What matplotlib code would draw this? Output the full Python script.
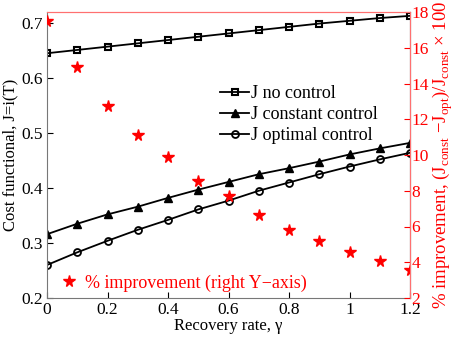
import matplotlib
matplotlib.use("Agg")
import matplotlib.pyplot as plt

plt.rcParams["font.family"] = ["Liberation Serif", "DejaVu Serif"]
plt.rcParams["mathtext.fontset"] = "custom"
plt.rcParams["mathtext.rm"] = "Liberation Serif"

# Данные
gamma = [0.0, 0.1, 0.2, 0.3, 0.4, 0.5, 0.6, 0.7, 0.8, 0.9, 1.0, 1.1, 1.2]
j_no = [0.645, 0.651, 0.657, 0.663, 0.669, 0.675, 0.681, 0.687, 0.693, 0.699, 0.704, 0.709, 0.713]
j_const = [0.316, 0.335, 0.352, 0.366, 0.382, 0.397, 0.411, 0.425, 0.436, 0.448, 0.461, 0.472, 0.482]
j_opt = [0.260, 0.283, 0.304, 0.324, 0.342, 0.361, 0.377, 0.395, 0.410, 0.425, 0.439, 0.452, 0.464]
improvement = [17.5, 14.9, 12.74, 11.12, 9.9, 8.56, 7.71, 6.64, 5.80, 5.19, 4.59, 4.07, 3.57]

fig = plt.figure(figsize=(4.63, 3.41), dpi=100)
ax = fig.add_axes([47 / 463, 43 / 341, 363 / 463, 286 / 341])

ax.plot(gamma, j_no, "k-s", lw=1.3, ms=4.5, mfc="none", mew=1.5, label="J no control")
ax.plot(gamma, j_const, "k-^", lw=1.3, ms=6, mfc="k", label="J constant control")
ax.plot(gamma, j_opt, "k-o", lw=1.3, ms=5, mfc="none", mew=1.3, label="J optimal control")

ax.set_xlim(0, 1.2)
ax.set_ylim(0.2, 0.72)
ax.set_xticks([0, 0.2, 0.4, 0.6, 0.8, 1, 1.2])
ax.set_xticklabels(["0", "0.2", "0.4", "0.6", "0.8", "1", "1.2"])
ax.set_yticks([0.2, 0.3, 0.4, 0.5, 0.6, 0.7])
ax.tick_params(direction="in", labelsize=12.5, length=4, pad=3)
ax.set_xlabel("Recovery rate, γ", fontsize=12, labelpad=0)
ax.set_ylabel("Cost functional, J=i(T)", fontsize=12, labelpad=2)
for s in ["left", "bottom"]:
    ax.spines[s].set_color("#777777")
ax.spines["top"].set_color("#ff7070")

ax.legend(loc="upper left", bbox_to_anchor=(0.432, 0.80), frameon=False,
          fontsize=13, handlelength=1.6, handletextpad=0.1, labelspacing=0.22)

# Правая ось: процент улучшения
ax2 = ax.twinx()
ax2.plot(gamma, improvement, "r*", ms=8.5, ls="none", label="% improvement (right Y\u2212axis)")
ax2.set_ylim(2, 18)
ax2.set_yticks(range(2, 19, 2))
ax2.tick_params(direction="in", labelsize=12.5, length=4, pad=1, colors="red")
ax2.spines["right"].set_color("#ff7070")
ax2.spines["top"].set_color("#ff7070")
for s in ["left", "bottom"]:
    ax2.spines[s].set_visible(False)
ax2.set_ylabel(r"% improvement, (J$_{\mathrm{const}}$ $-$J$_{\mathrm{opt}}$)/J$_{\mathrm{const}}$ $\times$ 100",
               color="red", fontsize=13.5, labelpad=1)
ax2.legend(loc="lower left", bbox_to_anchor=(-0.012, -0.035), frameon=False,
           fontsize=13, handlelength=1.1, handletextpad=0.35, labelcolor="red")

fig.savefig("out.png", dpi=100)
